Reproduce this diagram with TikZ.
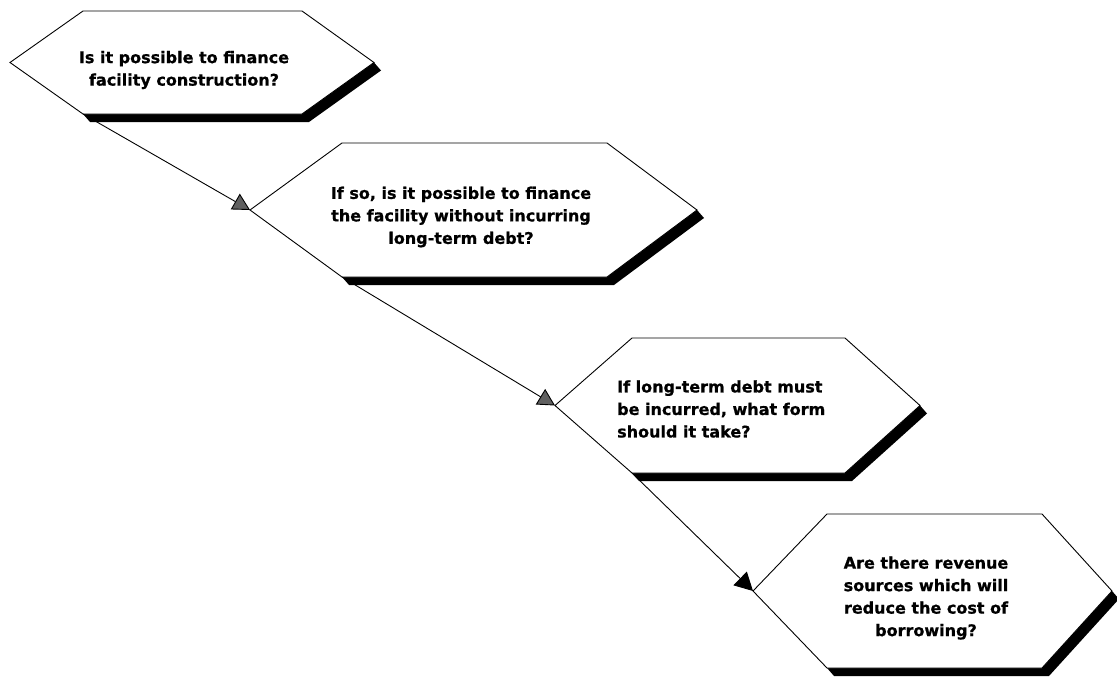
\documentclass[tikz,border=0pt]{standalone}
\usepackage{fontspec}
\setmainfont{DejaVu Sans}[BoldFeatures={FakeBold=0.8}]
\usetikzlibrary{arrows.meta}

\tikzset{
  hexbox/.style={draw=black, line width=0.9pt, fill=white, line join=miter},
  hexshadow/.style={fill=black},
  qtext/.style={font=\fontsize{16}{22.5}\selectfont\bfseries, inner sep=0pt},
  link/.style={draw=black, line width=0.9pt},
  greyhead/.style={-{Triangle[length=17pt,width=18pt,fill=gray!75!black]}},
  blackhead/.style={-{Triangle[length=18pt,width=19pt,fill=black]}}
}

% Elongated hexagon with a drop shadow under its bottom and lower-right edges.
% #1 name, #2 left x, #3 top y, #4 right x, #5 bottom y, #6 left inset, #7 right inset
\newcommand{\qhex}[7]{%
  \coordinate (#1-w)  at (#2,{(#3+#5)/2});
  \coordinate (#1-nw) at ({#2+#6},#3);
  \coordinate (#1-ne) at ({#4-#7},#3);
  \coordinate (#1-e)  at (#4,{(#3+#5)/2});
  \coordinate (#1-se) at ({#4-#7},#5);
  \coordinate (#1-sw) at ({#2+#6},#5);
  \fill[hexshadow] (#1-sw) -- (#1-se) -- (#1-e)
    -- ([shift={(7,8)}]#1-e) -- ([shift={(7,8)}]#1-se) -- ([shift={(7,8)}]#1-sw) -- cycle;
  \draw[hexbox] (#1-w) -- (#1-nw) -- (#1-ne) -- (#1-e) -- (#1-se) -- (#1-sw) -- cycle;
}

\begin{document}
\begin{tikzpicture}[x=1pt,y=-1pt]
  \useasboundingbox (0,0) rectangle (1117,677);
  \fill[white] (0,0) rectangle (1117,677);

  % the four questions, stepping down to the right
  \qhex{h1}{10}{11}{374}{114}{73}{72}
  \qhex{h2}{250}{143}{697}{277}{92}{90}
  \qhex{h3}{555}{338}{920}{473}{77}{75}
  \qhex{h4}{753}{514}{1112}{668}{74}{70}

  \node[qtext, align=center] (t1) at (184,70)
    {Is it possible to finance\\facility construction?};
  \node[qtext, align=center] (t2) at (461,217)
    {If so, is it possible to finance\\the facility without incurring\\long-term debt?};
  \node[qtext, align=left, anchor=west] (t3) at (617,409)
    {If long-term debt must\\be incurred, what form\\should it take?};
  \node[qtext, align=center] (t4) at (926,598)
    {Are there revenue\\sources which will\\reduce the cost of\\borrowing?};

  % connectors from each question to the next
  \draw[link, greyhead] (h1-sw) -- (h2-w);
  \draw[link, greyhead] (h2-sw) -- (h3-w);
  \draw[link, blackhead] (h3-sw) -- (h4-w);
\end{tikzpicture}
\end{document}
